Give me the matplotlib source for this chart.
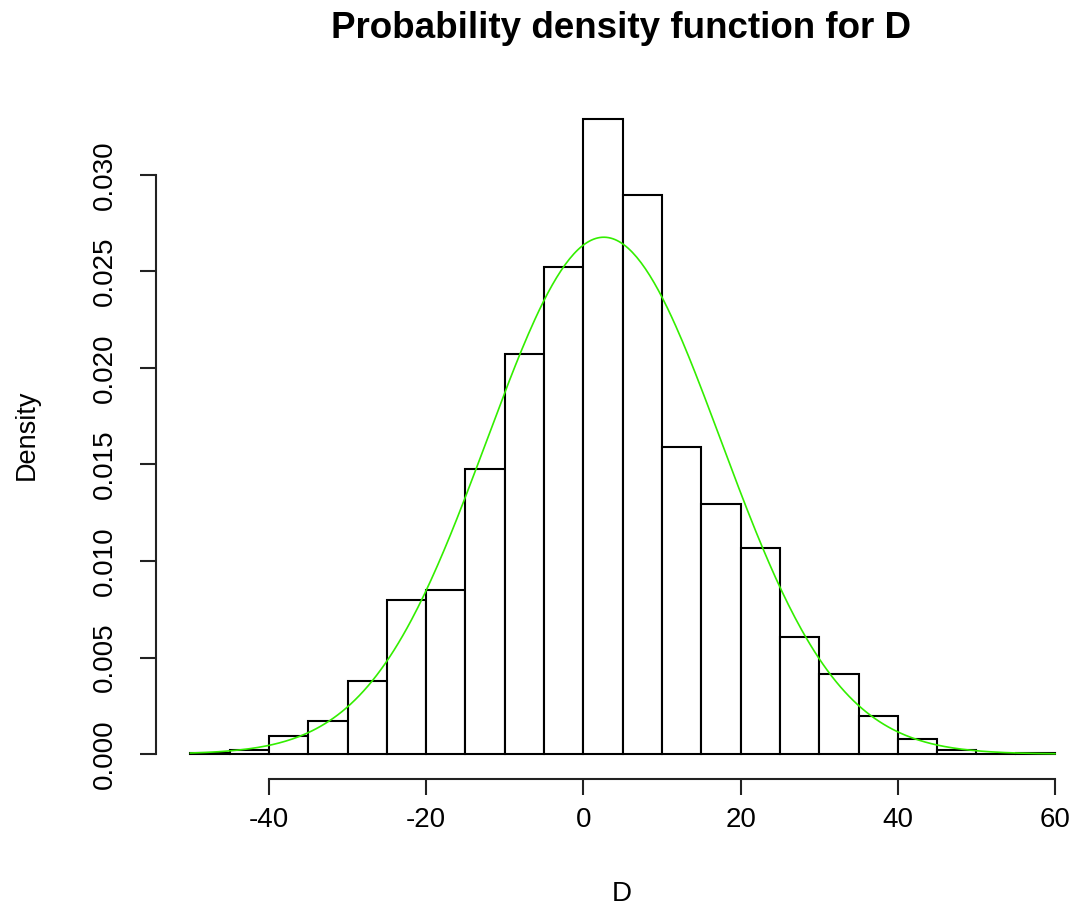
import numpy as np
import matplotlib.pyplot as plt

plt.rcParams['font.family'] = ['Liberation Sans', 'DejaVu Sans']

# histogram of D: bin edges (width 5) and density per bin
breaks = list(range(-50, 65, 5))
density = [0.00005, 0.00022, 0.00095, 0.0017, 0.0038, 0.0080, 0.0085,
           0.01476, 0.0207, 0.02524, 0.0329, 0.02897, 0.0159, 0.01295,
           0.01067, 0.00608, 0.00415, 0.00198, 0.00078, 0.00022, 0.0, 0.00005]

# normal fit drawn over the histogram
d_mean = 2.6
d_sd = 14.9

x_ticks = [-40, -20, 0, 20, 40, 60]
y_ticks = [0.000, 0.005, 0.010, 0.015, 0.020, 0.025, 0.030]

fig = plt.figure(figsize=(10.75, 9.06), dpi=100)
ax = fig.add_axes([0.1449, 0.1397, 0.8687, 0.757])

lefts = np.array(breaks[:-1])
ax.bar(lefts, density, width=5, align='edge', color='white',
       edgecolor='black', linewidth=1.5)

xs = np.linspace(breaks[0], breaks[-1], 400)
ys = np.exp(-(xs - d_mean) ** 2 / (2 * d_sd ** 2)) / (d_sd * np.sqrt(2 * np.pi))
ax.plot(xs, ys, color='#33ee00', linewidth=1.2)

rng = breaks[-1] - breaks[0]
ax.set_xlim(breaks[0] - 0.04 * rng, breaks[-1] + 0.04 * rng)
top = max(density)
ax.set_ylim(-0.04 * top, 1.04 * top)

for side in ['top', 'right']:
    ax.spines[side].set_visible(False)
ax.spines['left'].set_bounds(0, 0.030)
ax.spines['bottom'].set_bounds(-40, 60)
for side in ['left', 'bottom']:
    ax.spines[side].set_linewidth(1.5)
    ax.spines[side].set_color('#222222')

ax.set_xticks(x_ticks)
ax.set_xticklabels([str(v) for v in x_ticks])
ax.set_yticks(y_ticks)
ax.set_yticklabels(['%.3f' % v for v in y_ticks], rotation=90, va='center')
ax.tick_params(axis='both', length=11.5, width=1.5, color='#222222',
               labelsize=20)
ax.tick_params(axis='x', pad=8)
ax.tick_params(axis='y', pad=16)

fig.text(0.578, 1 - 28 / 906, 'Probability density function for D',
         ha='center', va='center', fontsize=26.5, fontweight='bold')
fig.text(0.578, 1 - 894 / 906, 'D', ha='center', va='center', fontsize=20)
fig.text(27 / 1075, 1 - 435 / 906, 'Density', ha='center', va='center',
         rotation=90, fontsize=19.5)

fig.savefig('out.png', dpi=100)
